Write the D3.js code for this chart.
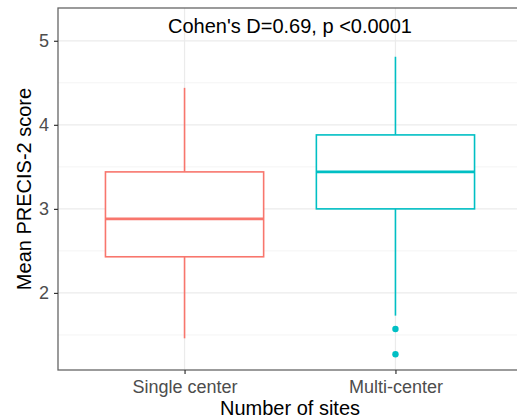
<!DOCTYPE html>
<html>
<head>
<meta charset="utf-8">
<script src="https://cdn.jsdelivr.net/npm/d3@7"></script>
<style>
	body { margin: 0; background: #fff; }
	text { font-family: "Liberation Sans", Arial, sans-serif; }
</style>
</head>
<body>
<script>
// groups and their box summaries
var categories = ["Single center", "Multi-center"];
var colors = ["#F8766D", "#00BFC4"];
var whiskerLow = [1.46, 1.73];
var q1 = [2.43, 3.00];
var median = [2.88, 3.44];
var q3 = [3.44, 3.88];
var whiskerHigh = [4.44, 4.81];
var outliers = [[], [1.57, 1.27]];
var yTicks = [2, 3, 4, 5];
var yMinor = [1.5, 2.5, 3.5, 4.5];
var annotation = "Cohen's D=0.69, p <0.0001";

var width = 517, height = 419;
var margin = {top: 8, left: 58, bottom: 49, right: -5};

var svg = d3.select("body").append("svg")
	.attr("width", width)
	.attr("height", height);

var x = d3.scaleLinear()
	.domain([0.4, 2.6])
	.range([margin.left, width - margin.right]);
var y = d3.scaleLinear()
	.domain([1.083, 5.39])
	.range([height - margin.bottom, margin.top]);

var boxWidth = 0.75;

var grid = svg.append("g");
grid.selectAll(".minor").data(yMinor).enter().append("line")
	.attr("x1", x.range()[0]).attr("x2", x.range()[1])
	.attr("y1", function (d) { return y(d); })
	.attr("y2", function (d) { return y(d); })
	.style("stroke", "#f4f4f4").style("stroke-width", 1);
grid.selectAll(".major").data(yTicks).enter().append("line")
	.attr("x1", x.range()[0]).attr("x2", x.range()[1])
	.attr("y1", function (d) { return y(d); })
	.attr("y2", function (d) { return y(d); })
	.style("stroke", "#ebebeb").style("stroke-width", 1.2);
grid.selectAll(".vmajor").data(categories).enter().append("line")
	.attr("x1", function (d, i) { return x(i + 1); })
	.attr("x2", function (d, i) { return x(i + 1); })
	.attr("y1", y.range()[0]).attr("y2", y.range()[1])
	.style("stroke", "#ebebeb").style("stroke-width", 1.2);

var boxes = svg.selectAll(".box").data(categories).enter().append("g");

boxes.append("line")
	.attr("x1", function (d, i) { return x(i + 1); })
	.attr("x2", function (d, i) { return x(i + 1); })
	.attr("y1", function (d, i) { return y(q3[i]); })
	.attr("y2", function (d, i) { return y(whiskerHigh[i]); })
	.style("stroke", function (d, i) { return colors[i]; })
	.style("stroke-width", 1.6);
boxes.append("line")
	.attr("x1", function (d, i) { return x(i + 1); })
	.attr("x2", function (d, i) { return x(i + 1); })
	.attr("y1", function (d, i) { return y(q1[i]); })
	.attr("y2", function (d, i) { return y(whiskerLow[i]); })
	.style("stroke", function (d, i) { return colors[i]; })
	.style("stroke-width", 1.6);
boxes.append("rect")
	.attr("x", function (d, i) { return x(i + 1 - boxWidth / 2); })
	.attr("width", function (d, i) { return x(i + 1 + boxWidth / 2) - x(i + 1 - boxWidth / 2); })
	.attr("y", function (d, i) { return y(q3[i]); })
	.attr("height", function (d, i) { return y(q1[i]) - y(q3[i]); })
	.style("fill", "#fff")
	.style("stroke", function (d, i) { return colors[i]; })
	.style("stroke-width", 1.6);
boxes.append("line")
	.attr("x1", function (d, i) { return x(i + 1 - boxWidth / 2); })
	.attr("x2", function (d, i) { return x(i + 1 + boxWidth / 2); })
	.attr("y1", function (d, i) { return y(median[i]); })
	.attr("y2", function (d, i) { return y(median[i]); })
	.style("stroke", function (d, i) { return colors[i]; })
	.style("stroke-width", 2.8);
boxes.each(function (d, i) {
	d3.select(this).selectAll("circle").data(outliers[i]).enter().append("circle")
		.attr("cx", x(i + 1))
		.attr("cy", function (v) { return y(v); })
		.attr("r", 3.2)
		.style("fill", colors[i]);
});

// panel border
svg.append("rect")
	.attr("x", x.range()[0]).attr("y", y.range()[1])
	.attr("width", x.range()[1] - x.range()[0])
	.attr("height", y.range()[0] - y.range()[1])
	.style("fill", "none").style("stroke", "#666").style("stroke-width", 1.3);

svg.append("text")
	.attr("x", x(1.5)).attr("y", y(5.095))
	.attr("text-anchor", "middle")
	.style("font-size", "20px").style("fill", "#000")
	.text(annotation);

// axes
var yAxis = svg.append("g")
	.attr("transform", "translate(" + x.range()[0] + ",0)")
	.call(d3.axisLeft(y).tickValues(yTicks).tickSize(4).tickPadding(5).tickFormat(d3.format("d")));
var xAxis = svg.append("g")
	.attr("transform", "translate(0," + y.range()[0] + ")")
	.call(d3.axisBottom(x).tickValues([1, 2]).tickSize(4).tickPadding(6)
		.tickFormat(function (d) { return categories[d - 1]; }));
[xAxis, yAxis].forEach(function (a) {
	a.select(".domain").remove();
	a.selectAll(".tick line").style("stroke", "#333").style("stroke-width", 1.2);
	a.selectAll(".tick text").style("font-size", "18px").style("fill", "#4d4d4d")
		.style("font-family", "'Liberation Sans', Arial, sans-serif");
});

svg.append("text")
	.attr("x", x(1.5)).attr("y", 415)
	.attr("text-anchor", "middle")
	.style("font-size", "20px")
	.text("Number of sites");
svg.append("text")
	.attr("transform", "translate(31," + ((y.range()[0] + y.range()[1]) / 2) + ") rotate(-90)")
	.attr("text-anchor", "middle")
	.style("font-size", "20px")
	.text("Mean PRECIS-2 score");
</script>
</body>
</html>
